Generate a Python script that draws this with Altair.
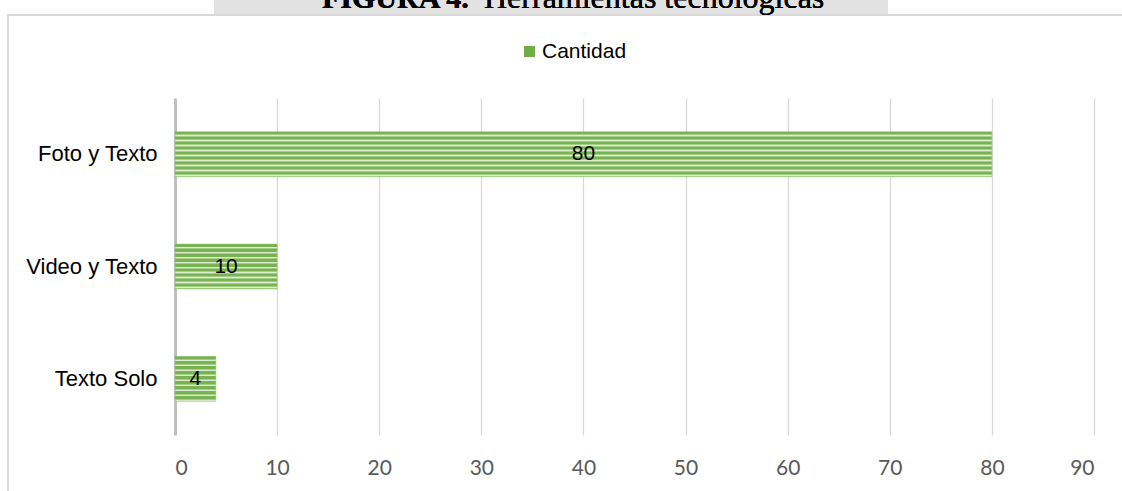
import altair as alt
import pandas as pd

categories = ["Foto y Texto", "Video y Texto", "Texto Solo"]
values = [80, 10, 4]
series_name = "Cantidad"
x_ticks = [0, 10, 20, 30, 40, 50, 60, 70, 80, 90]

df = pd.DataFrame({"cat": categories, "val": values, "serie": [series_name] * len(values)})
df["mid"] = df["val"] / 2

# striped fill built as a gradient with hard stops
stops = []
n = 9
for i in range(n):
    b = i / n
    p = 1 / n
    stops += [
        {"offset": b, "color": "#78B253"},
        {"offset": b + 0.5 * p, "color": "#78B253"},
        {"offset": b + 0.5 * p, "color": "#A4CE88"},
        {"offset": b + 0.66 * p, "color": "#A4CE88"},
        {"offset": b + 0.66 * p, "color": "#DCEDD1"},
        {"offset": b + 0.84 * p, "color": "#DCEDD1"},
        {"offset": b + 0.84 * p, "color": "#A4CE88"},
        {"offset": b + p, "color": "#A4CE88"},
    ]
stripe = alt.Gradient(gradient="linear", stops=stops, x1=0, x2=0, y1=0, y2=1)

W, H = 919, 337
L, T = 175, 98

ysc = alt.Scale(domain=categories, paddingInner=0.6, paddingOuter=0.3)
xsc = alt.Scale(domain=[0, 90], nice=False)

base = alt.Chart(df)

band = base.mark_rect(color="#E2E2E2").encode(
    x=alt.value(214 - L), x2=alt.value(888 - L), y=alt.value(0 - T), y2=alt.value(14 - T)
)
border = base.mark_rect(fill=None, stroke="#D9D9D9", strokeWidth=1.5).encode(
    x=alt.value(8 - L), x2=alt.value(1140 - L), y=alt.value(15 - T), y2=alt.value(520 - T)
)
title_bold = base.mark_text(
    text="FIGURA 4.", font="Liberation Serif", fontWeight="bold", fontSize=30,
    align="left", baseline="alphabetic", color="black"
).encode(x=alt.value(322 - L), y=alt.value(8 - T))
title_reg = base.mark_text(
    text="Herramientas tecnológicas", font="Liberation Serif", fontSize=32,
    align="left", baseline="alphabetic", color="black"
).encode(x=alt.value(484 - L), y=alt.value(8 - T))

bars = base.mark_bar(fill=stripe, stroke="#8CC068", strokeWidth=0.5).encode(
    y=alt.Y("cat:N", scale=ysc, sort=categories, title=None,
            axis=alt.Axis(domainColor="#BFBFBF", domainWidth=3, ticks=False,
                          labelFont="Liberation Sans", labelFontSize=22, labelColor="black",
                          labelPadding=18, grid=False)),
    x=alt.X("val:Q", scale=xsc, title=None,
            axis=alt.Axis(values=x_ticks, domain=False, ticks=False, grid=True,
                          gridColor="#D9D9D9", gridWidth=1.3,
                          labelFont="Lato", labelFontSize=21, labelColor="#595959",
                          labelPadding=22)),
)

legend_layer = base.mark_square(opacity=0).encode(
    x=alt.X("val:Q", scale=xsc),
    y=alt.Y("cat:N", scale=ysc, sort=categories),
    color=alt.Color("serie:N", scale=alt.Scale(range=["#70AD47"]),
                    legend=alt.Legend(title=None, orient="none", legendX=519 - L, legendY=41 - T,
                                      symbolType="square", symbolSize=121, symbolOpacity=1,
                                      symbolStrokeWidth=0,
                                      labelFont="Liberation Sans", labelFontSize=21,
                                      labelColor="black", labelOffset=2)),
)

labels = base.mark_text(font="Liberation Sans", fontSize=21, color="black", baseline="middle").encode(
    x=alt.X("mid:Q", scale=xsc),
    y=alt.Y("cat:N", scale=ysc, sort=categories),
    text="val:Q",
)

chart = alt.layer(band, border, bars, labels, legend_layer, title_bold, title_reg).properties(
    width=W, height=H, autosize=alt.AutoSizeParams(type="none"),
    padding={"left": L, "top": T, "right": 1122 - L - W, "bottom": 491 - T - H},
    background="white",
).configure_view(stroke=None)

chart.save("out.html", embed_options={"renderer": "svg", "actions": False})
